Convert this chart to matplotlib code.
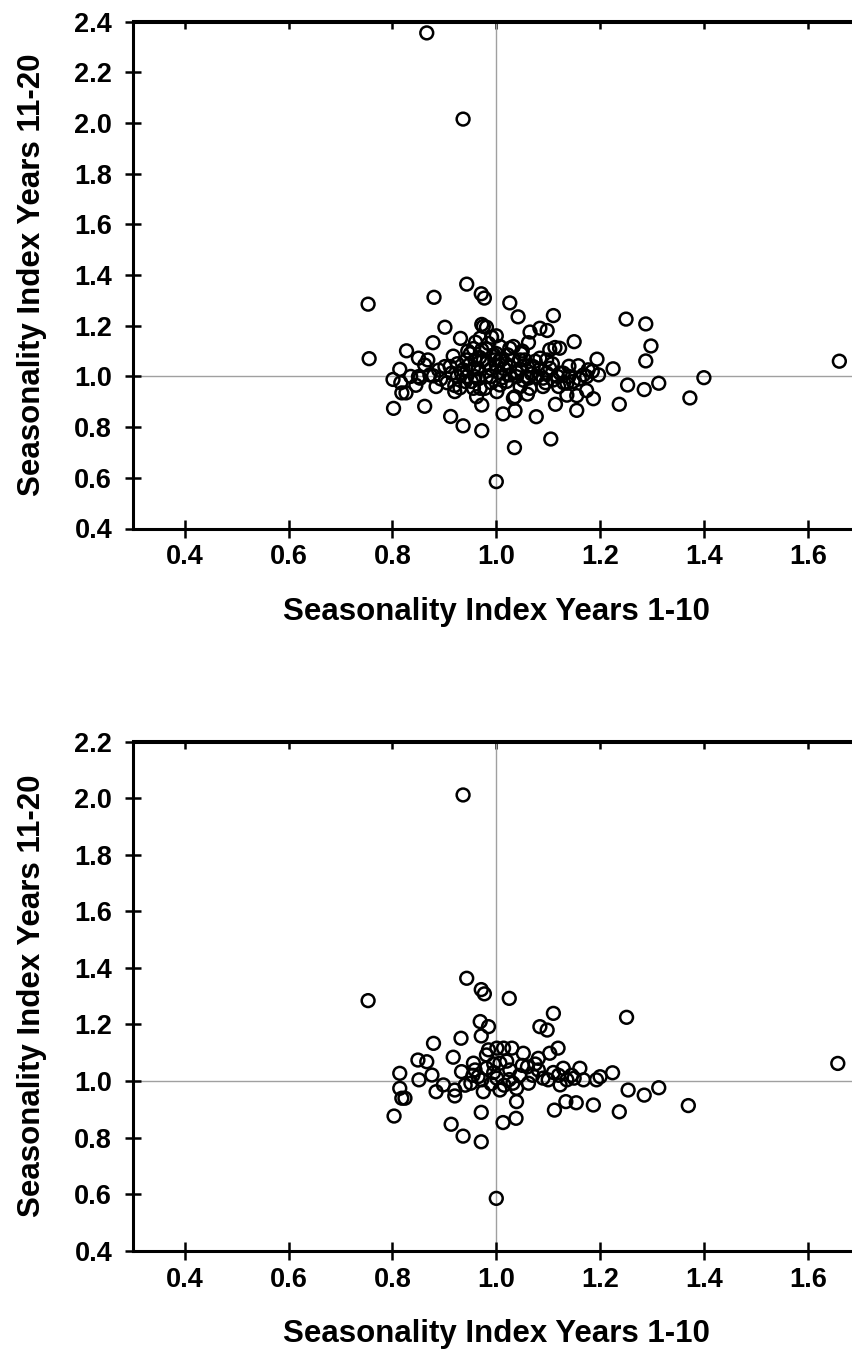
import matplotlib
matplotlib.use("Agg")
import matplotlib.pyplot as plt

plt.rcParams['font.family'] = ['Liberation Sans', 'DejaVu Sans']
plt.rcParams['font.weight'] = 'bold'

# ---------------- data ----------------
top_x = [0.866, 0.936, 0.753, 0.755, 0.880, 0.943, 0.971, 0.977, 1.026, 1.042,
         1.110, 1.065, 1.084, 1.098, 1.250, 1.288, 1.298, 1.288, 1.313, 1.285,
         1.253, 1.237, 1.373, 1.400, 1.661, 1.150, 1.194, 1.225, 1.187, 1.155,
         1.155, 1.114, 1.136, 1.105, 1.077, 1.035, 1.013, 1.036, 1.036, 1.000,
         0.972, 0.936, 0.912, 0.972, 0.862, 0.802, 0.814, 0.801, 0.816, 0.818,
         0.826, 0.827, 0.850, 0.868, 0.878, 0.901, 0.931, 0.850, 0.853, 0.872,
         0.879, 0.884, 0.893, 0.901, 0.911, 0.914, 0.917, 0.920, 0.920, 0.933,
         0.936, 0.943, 0.943, 0.956, 0.956, 0.956, 0.959, 0.959, 0.962, 0.969,
         0.969, 0.972, 0.975, 0.981, 0.991, 0.981, 0.972, 0.975, 0.981, 0.981,
         0.978, 0.997, 1.001, 1.007, 1.007, 1.007, 1.007, 1.010, 1.026, 1.033,
         1.026, 1.026, 1.033, 1.039, 1.033, 1.046, 1.055, 1.062, 1.058, 1.062,
         1.065, 1.046, 1.071, 1.084, 1.097, 1.097, 1.078, 1.090, 1.090, 1.103,
         1.113, 1.122, 1.103, 1.110, 1.123, 1.129, 1.136, 1.148, 1.158, 1.168,
         1.177, 1.197, 1.174, 1.174, 0.990, 1.015, 1.045, 0.965, 1.020, 0.950,
         1.000, 1.050, 0.990, 1.060, 1.120, 1.140, 0.940, 0.925,
         0.835, 0.845, 0.862, 0.889, 0.905, 0.925, 0.930, 0.948, 0.952, 0.965,
         0.968, 0.985, 0.995, 1.000, 1.012, 1.018, 1.022, 1.040, 1.048, 1.052,
         1.068, 1.075, 1.085, 1.095, 1.108, 1.118, 1.130, 1.140, 1.160, 1.185,
         0.990, 0.960, 1.000, 0.945, 1.060]
top_y = [2.355, 2.015, 1.285, 1.070, 1.312, 1.364, 1.326, 1.309, 1.290, 1.235,
         1.240, 1.175, 1.190, 1.181, 1.226, 1.207, 1.120, 1.061, 0.973, 0.948,
         0.966, 0.890, 0.915, 0.995, 1.060, 1.137, 1.068, 1.030, 0.912, 0.866,
         0.924, 0.890, 0.926, 0.753, 0.841, 0.719, 0.852, 0.865, 0.920, 0.585,
         0.786, 0.805, 0.842, 0.887, 0.882, 0.874, 1.028, 0.988, 0.975, 0.935,
         0.935, 1.101, 1.072, 1.065, 1.133, 1.194, 1.150, 0.999, 0.993, 1.006,
         1.002, 0.960, 0.990, 1.039, 1.039, 1.013, 1.080, 0.964, 0.940, 1.013,
         1.026, 1.065, 0.999, 1.110, 1.032, 0.953, 1.065, 0.999, 0.920, 0.953,
         1.151, 1.205, 1.197, 1.194, 1.155, 1.108, 1.105, 1.065, 1.052, 0.999,
         0.953, 1.065, 0.940, 0.966, 1.118, 1.065, 1.013, 1.065, 1.111, 1.118,
         1.039, 1.006, 1.065, 0.999, 0.914, 1.065, 1.065, 1.133, 0.999, 0.993,
         0.953, 0.960, 1.039, 1.072, 1.065, 1.013, 0.999, 0.993, 0.960, 1.105,
         1.114, 1.111, 1.032, 0.986, 1.013, 1.013, 0.973, 0.980, 1.042, 1.006,
         1.026, 1.006, 0.999, 0.944, 1.030, 1.030, 1.030, 1.030, 0.980, 1.090,
         1.090, 1.100, 1.000, 1.040, 0.960, 1.040, 0.980, 1.050,
         1.000, 0.965, 1.045, 1.025, 0.975, 1.000, 0.955, 1.045, 0.980, 0.990,
         1.075, 1.130, 1.085, 1.045, 0.995, 1.050, 1.085, 1.015, 1.090, 0.985,
         1.010, 1.060, 1.030, 0.975, 1.050, 1.000, 0.975, 1.000, 0.990, 1.020,
         0.975, 1.135, 1.160, 1.100, 0.930]

bot_x = [0.936, 1.000, 1.658, 1.370, 0.753, 0.943, 0.971, 0.977, 1.025, 1.110,
         1.084, 1.098, 1.251, 0.879, 0.932, 0.969, 0.985, 0.971, 0.849, 0.866,
         0.814, 0.814, 0.818, 0.824, 0.803, 0.851, 0.876, 0.884, 0.898, 0.917,
         0.920, 0.920, 0.933, 0.956, 0.959, 0.951, 0.972, 0.975, 0.971, 0.913,
         0.936, 0.971, 0.985, 1.001, 1.014, 1.030, 1.007, 1.026, 1.001, 1.007,
         1.032, 1.039, 1.052, 1.062, 1.039, 1.038, 1.013, 1.081, 1.103, 1.119,
         1.081, 1.100, 1.129, 1.123, 1.136, 1.161, 1.168, 1.193, 1.200, 1.224,
         1.134, 1.154, 1.187, 1.112, 1.285, 1.254, 1.237, 1.313, 0.981, 0.995,
         1.045, 1.060, 0.940, 1.015, 1.090, 1.145, 0.981,
         0.965, 0.990, 1.020, 1.050, 1.070, 1.110, 1.150, 0.995, 1.025, 0.955,
         1.075, 1.120]
bot_y = [2.011, 0.585, 1.062, 0.913, 1.284, 1.363, 1.323, 1.308, 1.292, 1.239,
         1.192, 1.180, 1.225, 1.133, 1.151, 1.210, 1.192, 1.159, 1.074, 1.068,
         1.027, 0.974, 0.939, 0.939, 0.876, 1.004, 1.021, 0.962, 0.986, 1.084,
         0.968, 0.947, 1.033, 1.063, 1.039, 0.992, 1.004, 0.962, 0.889, 0.847,
         0.805, 0.785, 1.110, 1.116, 1.116, 1.116, 1.063, 1.039, 1.010, 0.968,
         0.992, 0.974, 1.098, 0.992, 0.927, 0.868, 0.853, 1.080, 1.098, 1.116,
         1.039, 1.004, 1.045, 0.986, 1.004, 1.045, 1.004, 1.004, 1.015, 1.029,
         0.927, 0.923, 0.915, 0.897, 0.950, 0.968, 0.891, 0.976, 1.045, 1.030,
         1.020, 1.050, 0.985, 0.985, 1.010, 1.020, 1.092,
         1.015, 0.990, 1.070, 1.055, 1.020, 1.030, 1.010, 1.060, 1.005, 1.020,
         1.060, 1.020]

x_ticks = [0.4, 0.6, 0.8, 1.0, 1.2, 1.4, 1.6]
top_y_ticks = [0.4, 0.6, 0.8, 1.0, 1.2, 1.4, 1.6, 1.8, 2.0, 2.2, 2.4]
bot_y_ticks = [0.4, 0.6, 0.8, 1.0, 1.2, 1.4, 1.6, 1.8, 2.0, 2.2]
x_label = "Seasonality Index Years 1-10"
y_label = "Seasonality Index Years 11-20"

# ---------------- figure ----------------
W, H = 853, 1351
fig = plt.figure(figsize=(W / 100, H / 100), dpi=100)
fig.patch.set_facecolor('white')

def px_axes(x0, x1, y0, y1):
    return [x0 / W, 1 - y1 / H, (x1 - x0) / W, (y1 - y0) / H]

def make_panel(rect, xs, ys, ylim, yticks):
    ax = fig.add_axes(rect)
    ax.set_xlim(0.3, 1.7)
    ax.set_ylim(*ylim)
    ax.axhline(1.0, color='#a0a0a0', lw=1.0, zorder=1)
    ax.axvline(1.0, color='#a0a0a0', lw=1.0, zorder=1)
    ax.scatter(xs, ys, s=85, facecolors='none', edgecolors='black',
               linewidths=1.8, zorder=3, clip_on=False)
    for sp in ax.spines.values():
        sp.set_linewidth(2.2)
    ax.set_xticks(x_ticks)
    ax.set_xticklabels([f"{t:.1f}" for t in x_ticks])
    ax.set_yticks(yticks)
    ax.set_yticklabels([f"{t:.1f}" for t in yticks])
    ax.tick_params(axis='x', direction='inout', length=13, width=1.8,
                   labelsize=19.5, pad=5)
    ax.tick_params(axis='y', direction='inout', length=12, width=1.8,
                   labelsize=19.5, pad=9)
    for lab in ax.get_xticklabels() + ax.get_yticklabels():
        lab.set_fontweight('bold')
    ax.set_xlabel(x_label, fontsize=22.5, fontweight='bold', labelpad=19)
    ax.set_ylabel(y_label, fontsize=22.5, fontweight='bold', labelpad=20)
    sx = ax.secondary_xaxis('top')
    sx.set_xticks(x_ticks)
    sx.tick_params(direction='in', length=6, width=1.8, labeltop=False)
    sx.spines['top'].set_linewidth(2.2)
    sy = ax.secondary_yaxis('right')
    sy.set_yticks(yticks)
    sy.tick_params(direction='in', length=6, width=1.8, labelright=False)
    sy.spines['right'].set_linewidth(2.2)
    return ax

make_panel(px_axes(133, 859.6, 21.5, 528.5), top_x, top_y, (0.4, 2.4), top_y_ticks)
make_panel(px_axes(133, 859.6, 741.5, 1250.7), bot_x, bot_y, (0.4, 2.2), bot_y_ticks)

fig.savefig("out.png", dpi=100)
